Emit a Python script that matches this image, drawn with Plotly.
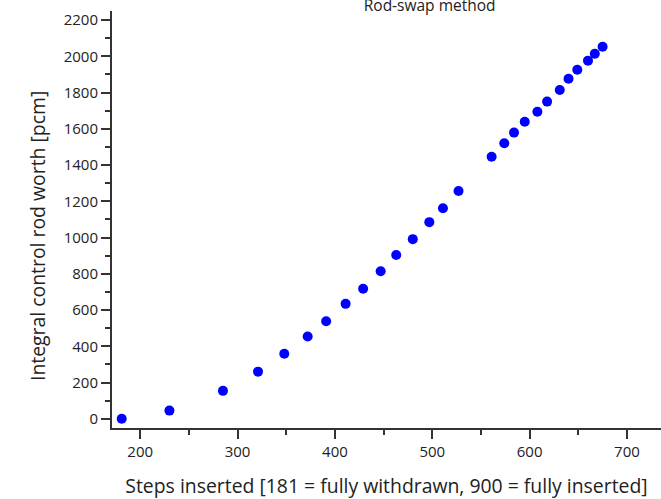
import plotly.graph_objects as go

steps = [181, 230, 285, 321, 348, 372, 391, 411, 429, 447, 463, 480, 497, 511, 527,
         561, 574, 584, 595, 608, 618, 631, 640, 649, 660, 667, 675]
worth = [0, 45, 154, 260, 359, 454, 538, 634, 717, 814, 904, 991, 1085, 1162, 1257,
         1446, 1520, 1579, 1639, 1694, 1750, 1814, 1876, 1926, 1976, 2014, 2053]

title_text = "Rod-swap method"
x_title = "Steps inserted [181 = fully withdrawn, 900 = fully inserted]"
y_title = "Integral control rod worth [pcm]"

FONT = "Open Sans"
TXT = "#222222"

fig = go.Figure(go.Scatter(
    x=steps, y=worth, mode="markers",
    marker=dict(color="#0000ff", size=10, line=dict(width=0)),
    showlegend=False,
))

axis_common = dict(
    showline=True, linecolor="#333333", linewidth=2, mirror=False,
    ticks="outside", ticklen=9, tickwidth=2, tickcolor="#333333",
    showgrid=False, zeroline=False, automargin=False,
    tickfont=dict(family=FONT, size=15, color=TXT),
)

fig.update_layout(
    width=661, height=499,
    margin=dict(l=112, r=0, t=11, b=71),
    paper_bgcolor="white", plot_bgcolor="white",
    title=dict(text=title_text, x=0.65, xref="container", xanchor="center",
               y=0.988, yref="container", yanchor="middle",
               font=dict(family=FONT, size=15.5, color=TXT)),
    xaxis=dict(range=[171, 735], dtick=100, tick0=0,
               minor=dict(dtick=50, ticklen=5, tickwidth=2, tickcolor="#333333", ticks="outside"),
               title=dict(text=x_title, standoff=20, font=dict(family=FONT, size=19.4, color=TXT)),
               **axis_common),
    yaxis=dict(range=[-51, 2250], dtick=200, tick0=0,
               minor=dict(dtick=100, ticklen=5, tickwidth=2, tickcolor="#333333", ticks="outside"),
               **axis_common),
    annotations=[dict(text=y_title, textangle=-90, showarrow=False,
                      xref="paper", yref="paper", x=-0.1366, y=0.4604,
                      xanchor="center", yanchor="middle",
                      font=dict(family=FONT, size=19.4, color=TXT))],
)

fig.write_html("out.html", config={"displayModeBar": False},
               post_script="document.body.style.margin='0';document.body.style.overflow='hidden';")
